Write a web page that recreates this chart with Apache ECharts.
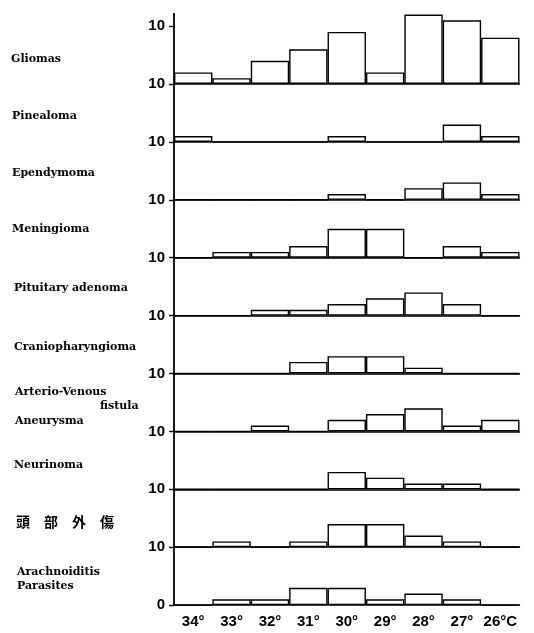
<!DOCTYPE html>
<html>
<head>
<meta charset="utf-8">
<script src="https://cdn.jsdelivr.net/npm/echarts@6/dist/echarts.min.js"></script>
<style>
  html, body { margin: 0; padding: 0; background: #fff; }
  #chart { width: 534px; height: 633px; }
</style>
</head>
<body>
<div id="chart"></div>
<script>
// Temperature bins (°C), hottest on the left
const temperatures = ['34°', '33°', '32°', '31°', '30°', '29°', '28°', '27°', '26°C'];

// Number of cases per temperature bin, one array per diagnosis
const gliomas          = [2, 1, 4, 6, 9, 2, 12, 11, 8];
const pinealoma        = [1, 0, 0, 0, 1, 0, 0, 3, 1];
const ependymoma       = [0, 0, 0, 0, 1, 0, 2, 3, 1];
const meningioma       = [0, 1, 1, 2, 5, 5, 0, 2, 1];
const pituitaryAdenoma = [0, 0, 1, 1, 2, 3, 4, 2, 0];
const craniopharyng    = [0, 0, 0, 2, 3, 3, 1, 0, 0];
const avFistulaAneur   = [0, 0, 1, 0, 2, 3, 4, 1, 2];
const neurinoma        = [0, 0, 0, 0, 3, 2, 1, 1, 0];
const headInjury       = [0, 1, 0, 1, 4, 4, 2, 1, 0];
const arachnoParasites = [0, 1, 1, 3, 3, 1, 2, 1, 0];

// Scale ticks shown on each panel's value axis
const scaleTicks = [0, 10];

const panels = [gliomas, pinealoma, ependymoma, meningioma, pituitaryAdenoma,
                craniopharyng, avFistulaAneur, neurinoma, headInjury, arachnoParasites];

// Row captions (some rows use several lines)
const captions = [
  ['Gliomas'],
  ['Pinealoma'],
  ['Ependymoma'],
  ['Meningioma'],
  ['Pituitary adenoma'],
  ['Craniopharyngioma'],
  ['Arterio-Venous', 'fistula', 'Aneurysma'],
  ['Neurinoma'],
  ['頭　部　外　傷'],
  ['Arachnoiditis', 'Parasites']
];

// ---- layout ----
const AXIS_X = 174;
const PLOT_W = 345.5;
const FIRST_BASE = 84;
const STEP = 57.9;          // distance between panel baselines = 10 cases
const AXIS_TOP = 13;

const serif = 'bold 11px "DejaVu Serif", "Liberation Serif", serif';
const cjk = 'bold 14px "Noto Sans CJK JP", "Noto Sans CJK SC", sans-serif';
const numFont = '"Liberation Sans", Arial, sans-serif';

// caption placement: [x, y] for every line
const captionPos = [
  [[11, 59]],
  [[12, 116]],
  [[12, 173]],
  [[12, 229]],
  [[14, 288]],
  [[14, 347]],
  [[15, 392], [100, 406], [15, 421]],
  [[14, 465]],
  [[16, 522]],
  [[17, 572], [17, 586]]
];

const grids = [], xAxes = [], yAxes = [], series = [];
panels.forEach((vals, i) => {
  const base = FIRST_BASE + STEP * i;
  const last = i === panels.length - 1;
  grids.push({ left: AXIS_X, width: PLOT_W, top: base - STEP, height: STEP, containLabel: false });
  xAxes.push({
    type: 'category', gridIndex: i, data: temperatures, boundaryGap: true,
    axisLine: { show: true, lineStyle: { color: '#000', width: 1.5 } },
    axisTick: { show: false },
    axisLabel: {
      show: last, interval: 0, margin: 9, color: '#000',
      fontFamily: numFont, fontWeight: 'bold', fontSize: 15
    },
    splitLine: { show: false }
  });
  yAxes.push({
    type: 'value', gridIndex: i, min: scaleTicks[0], max: scaleTicks[1],
    interval: scaleTicks[1] - scaleTicks[0],
    axisLine: { show: true, lineStyle: { color: '#000', width: 1.8 } },
    axisTick: { show: true, length: 5, lineStyle: { color: '#000', width: 1.4 } },
    axisLabel: {
      showMinLabel: last, showMaxLabel: true, margin: 9, color: '#000',
      fontFamily: numFont, fontWeight: 'bold', fontSize: 15
    },
    splitLine: { show: false }
  });
  series.push({
    type: 'bar', xAxisIndex: i, yAxisIndex: i, data: vals,
    barCategoryGap: '0%', clip: false, silent: true,
    itemStyle: { color: '#fff', borderColor: '#000', borderWidth: 1.4 }
  });
});

const graphics = [
  // upward continuation of the shared vertical axis above the first panel
  { type: 'line', z: 10,
    shape: { x1: AXIS_X, y1: AXIS_TOP, x2: AXIS_X, y2: FIRST_BASE - STEP + 1 },
    style: { stroke: '#000', lineWidth: 1.8 } }
];
captions.forEach((lines, i) => {
  lines.forEach((txt, j) => {
    const [x, y] = captionPos[i][j];
    graphics.push({
      type: 'text', x: x, y: y,
      style: {
        text: txt, font: /[\u3400-\u9fff]/.test(txt) ? cjk : serif,
        fill: '#000', verticalAlign: 'middle', align: 'left'
      }
    });
  });
});

const chart = echarts.init(document.getElementById('chart'), null, { renderer: 'canvas' });
chart.setOption({
  animation: false,
  backgroundColor: '#fff',
  grid: grids,
  xAxis: xAxes,
  yAxis: yAxes,
  series: series,
  graphic: graphics
});
</script>
</body>
</html>
